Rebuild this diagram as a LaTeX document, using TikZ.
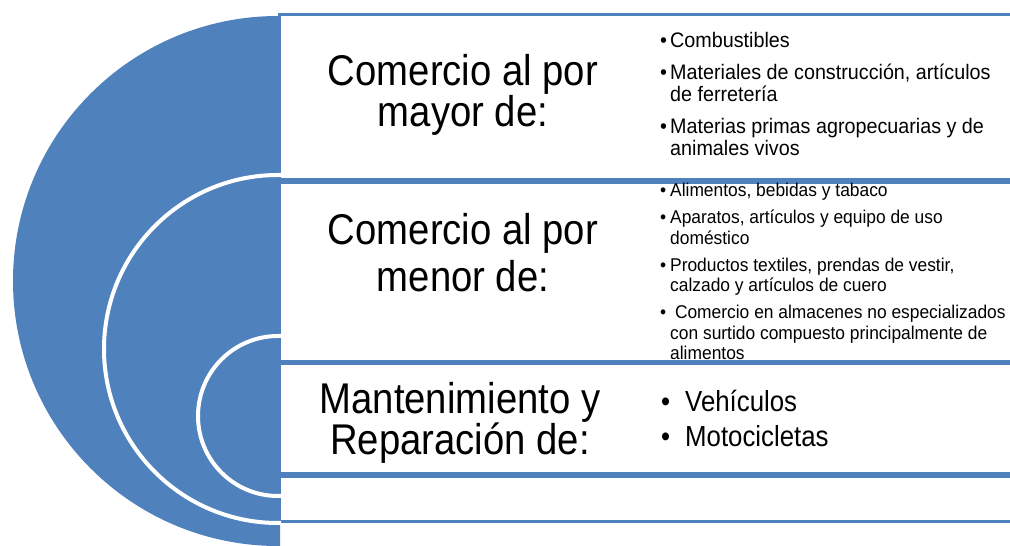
\documentclass[tikz,border=0pt]{standalone}
\usepackage{fontspec}
\setmainfont{Liberation Sans}
\newfontfamily\titlefont[FakeStretch=0.89]{Liberation Sans}
\newfontfamily\listfont[FakeStretch=0.94]{Liberation Sans}
\usetikzlibrary{positioning}
\definecolor{officeblue}{HTML}{4F81BD}
\tikzset{
    band/.style = {draw=officeblue, line width=3pt, fill=white, rectangle,
        anchor=north west, minimum width=760pt, inner sep=0pt},
    ring/.style = {draw=white, line width=4pt},
    title/.style = {align=center, anchor=base, inner sep=0pt,
        font=\titlefont\fontsize{43}{38}\selectfont},
    list/.style = {align=left, anchor=base west, inner sep=0pt}
}
\def\bul{\makebox[10pt][l]{\textbullet}}
\def\ind{\hspace*{10pt}}

\begin{document}
\begin{tikzpicture}[x=1pt, y=1pt]
    \useasboundingbox (0,0) rectangle (1010,546);
    \clip (0,0) rectangle (1010,546);
    % half disc
    \fill [officeblue] (280,530) -- (278,530) arc [start angle=90, end angle=270, radius=265] -- (280,0) -- cycle;
    % bands
    \node [band, minimum height=165pt] (mayor) at (278,532.5) {};
    \node [band, minimum height=178.5pt] (menor) at (278,364.5) {};
    \node [band, minimum height=109.5pt] (mant) at (278,183.5) {};
    \node [band, minimum height=45pt] (extra) at (278,71) {};
    % rings
    \draw [ring] (281,371) -- (278,371) arc [start angle=90, end angle=270, radius=174] -- (281,23);
    \draw [ring] (281,210) -- (278,210) arc [start angle=90, end angle=270, radius=80] -- (281,50);
    % titles (anchored on the last line)
    \node [title] (tmayor) at (463,419) {Comercio al por\\mayor de:};
    \node [title] (tmenor) at (463,254) {Comercio al por\\[6pt]menor de:};
    \node [title] (tmant) at (460,91) {Mantenimiento y\\Reparación de:};
    % lists
    \node [list, font=\listfont\fontsize{21}{22.5}\selectfont] (lmayor) at (660,390)
        {\bul Combustibles\\[9pt]
         \bul Materiales de construcción, artículos\\\ind de ferretería\\[9pt]
         \bul Materias primas agropecuarias y de\\\ind animales vivos};
    \node [list, font=\listfont\fontsize{18.5}{20.5}\selectfont] (lmenor) at (660,186)
        {\bul Alimentos, bebidas y tabaco\\[6.5pt]
         \bul Aparatos, artículos y equipo de uso\\\ind doméstico\\[6.5pt]
         \bul Productos textiles, prendas de vestir,\\\ind calzado y artículos de cuero\\[6.5pt]
         \bul\ Comercio en almacenes no especializados\\\ind con surtido compuesto principalmente de\\\ind alimentos};
    \node [list, font=\titlefont\fontsize{29}{35}\selectfont] (lmant) at (661,99)
        {\makebox[24pt][l]{\textbullet}Vehículos\\\makebox[24pt][l]{\textbullet}Motocicletas};
\end{tikzpicture}
\end{document}
